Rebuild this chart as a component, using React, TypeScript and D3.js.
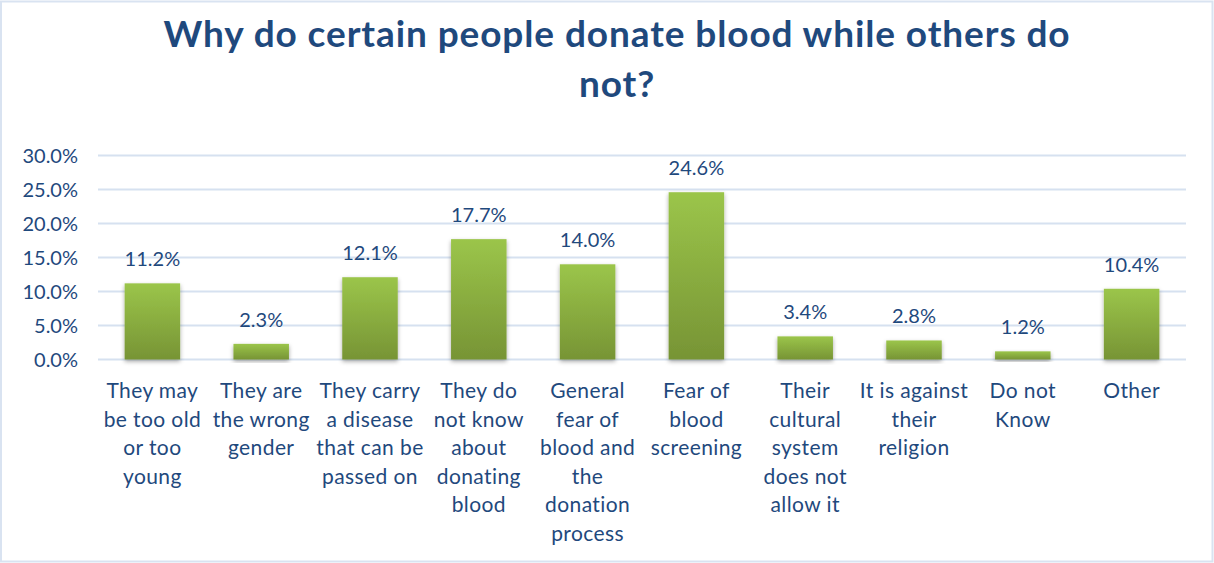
import React from "react";
import * as d3 from "d3";

const title = ["Why do certain people donate blood while others do", "not?"];
const categories = [
  ["They may", "be too old", "or too", "young"],
  ["They are", "the wrong", "gender"],
  ["They carry", "a disease", "that can be", "passed on"],
  ["They do", "not know", "about", "donating", "blood"],
  ["General", "fear of", "blood and", "the", "donation", "process"],
  ["Fear of", "blood", "screening"],
  ["Their", "cultural", "system", "does not", "allow it"],
  ["It is against", "their", "religion"],
  ["Do not", "Know"],
  ["Other"],
];
const values = [11.2, 2.3, 12.1, 17.7, 14.0, 24.6, 3.4, 2.8, 1.2, 10.4];
const yTicks = [0, 5, 10, 15, 20, 25, 30];

const W = 1214;
const H = 563;
const FONT = "Lato, 'Open Sans', sans-serif";
const TEXT = "#1F497D";

export default function App() {
  const x = d3
    .scaleBand<number>()
    .domain(d3.range(values.length))
    .range([98, 1186])
    .paddingInner(0.49)
    .paddingOuter(0.245);
  const y = d3.scaleLinear().domain([0, 30]).range([359.5, 155.5]);
  const fmt = (v: number) => v.toFixed(1) + "%";

  return (
    <svg
      width={W}
      height={H}
      style={{ position: "absolute", left: 0, top: 0, background: "#fff" }}
      fontFamily={FONT}
    >
      <defs>
        <linearGradient id="barGrad" x1="0" y1="0" x2="0" y2="1">
          <stop offset="0%" stopColor="#9BC54A" />
          <stop offset="100%" stopColor="#779435" />
        </linearGradient>
        <filter id="shadow" x="-20%" y="-20%" width="140%" height="140%">
          <feDropShadow dx="0" dy="2" stdDeviation="2" floodColor="#000" floodOpacity="0.35" />
        </filter>
      </defs>
      <rect x={1} y={1.5} width={W - 2.5} height={H - 3} fill="#fff" stroke="#D9E3F1" strokeWidth={2} />

      {title.map((t, i) => (
        <text
          key={i}
          x={617}
          y={47 + i * 50}
          textAnchor="middle"
          fontSize={37}
          fontWeight="bold"
          letterSpacing={0.9}
          fill={TEXT}
        >
          {t}
        </text>
      ))}

      {yTicks.map((t) => (
        <g key={t}>
          <line x1={98} x2={1186} y1={y(t)} y2={y(t)} stroke="#D6E1F0" strokeWidth={2} />
          <text x={78} y={y(t) + 7} textAnchor="end" fontSize={20} fill={TEXT}>
            {fmt(t)}
          </text>
        </g>
      ))}

      {values.map((v, i) => (
        <g key={i}>
          <rect
            x={x(i)}
            y={y(v)}
            width={x.bandwidth()}
            height={y(0) - y(v)}
            fill="url(#barGrad)"
            filter="url(#shadow)"
          />
          <text
            x={(x(i) as number) + x.bandwidth() / 2}
            y={y(v) - 17}
            textAnchor="middle"
            fontSize={20}
            fill={TEXT}
          >
            {fmt(v)}
          </text>
          {categories[i].map((line, j) => (
            <text
              key={j}
              x={(x(i) as number) + x.bandwidth() / 2}
              y={398 + j * 28.5}
              textAnchor="middle"
              fontSize={21}
              letterSpacing={0.4}
              fill={TEXT}
            >
              {line}
            </text>
          ))}
        </g>
      ))}
    </svg>
  );
}
